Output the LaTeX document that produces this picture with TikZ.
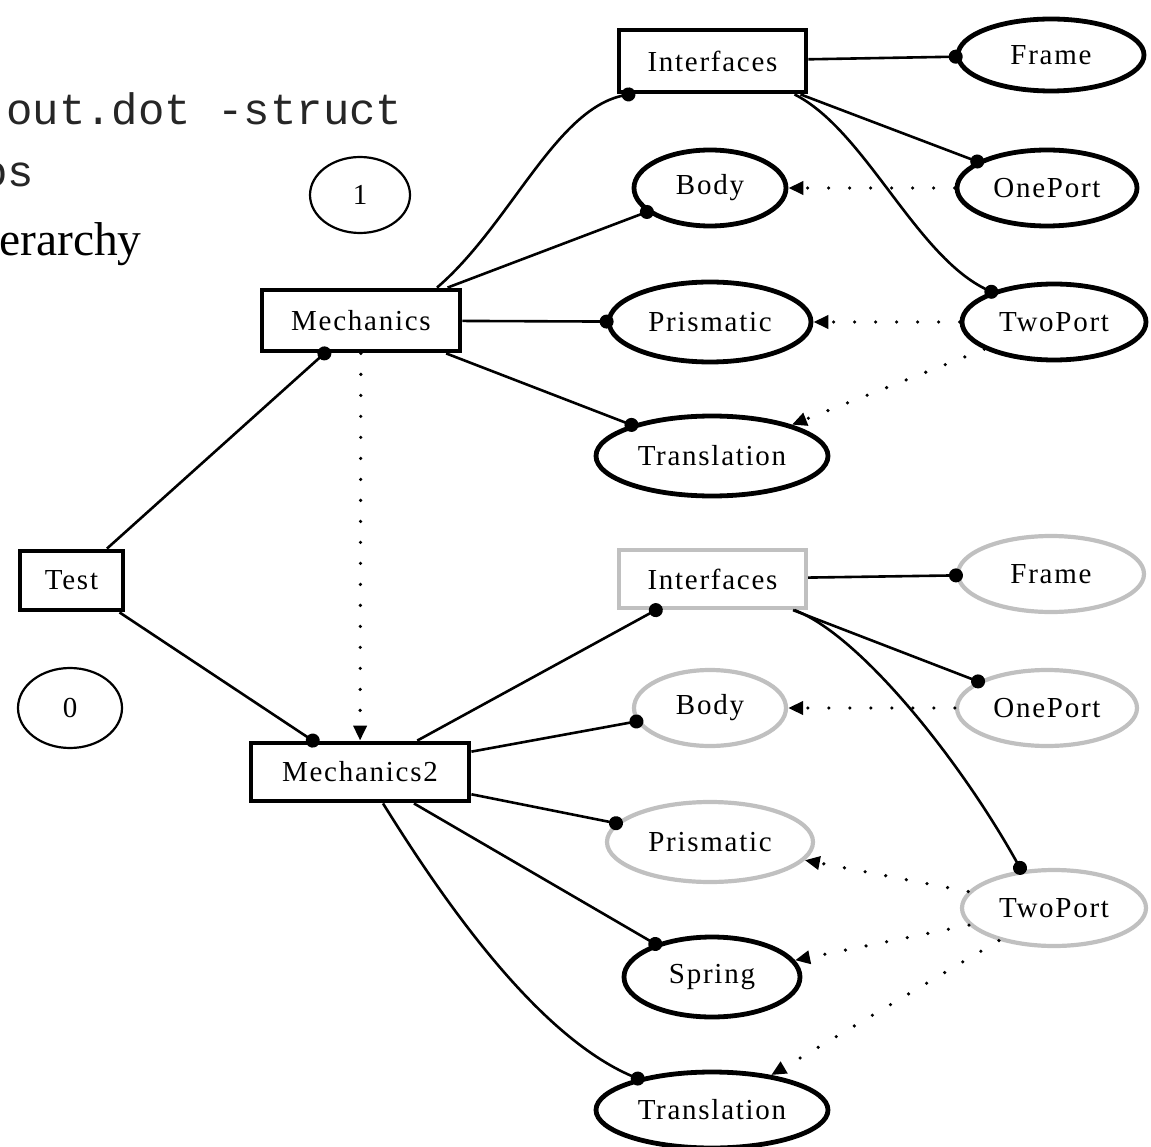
\documentclass[tikz,border=0pt]{standalone}
\usepackage{fontspec}
\setmainfont{Liberation Serif}
\setmonofont{Liberation Mono}
\newfontfamily\lblfont[LetterSpace=6]{Liberation Serif}
\usetikzlibrary{shapes.geometric,arrows.meta}
\definecolor{lgray}{RGB}{192,192,192}
\begin{document}
\begin{tikzpicture}[x=1pt,y=-1pt,
  lbl/.style={font=\lblfont\fontsize{29}{31}\selectfont},
  box/.style={lbl,draw,line width=4.8pt,rectangle,inner sep=0pt},
  gbox/.style={box,draw=lgray,line width=4.2pt},
  ell/.style={lbl,draw,line width=4.8pt,ellipse,inner sep=0pt},
  gell/.style={ell,draw=lgray,line width=4.2pt},
  thinell/.style={lbl,draw,line width=2.2pt,ellipse,inner sep=0pt},
  edge/.style={line width=2.6pt,-{Circle[length=14pt]},shorten >=-7pt},
  dep/.style={line width=3.6pt,line cap=round,dash pattern=on 0pt off 21pt,
     -{Triangle[length=15pt,width=13pt]}},
  bigtxt/.style={anchor=base west,inner sep=0pt}]
\useasboundingbox (0,0) rectangle (1151,1147);

% cut-off text at top left
\node[bigtxt,font=\ttfamily\fontsize{44}{46}\selectfont,text=black!85] (t1) at (6,125) {out.dot -struct};
\node[bigtxt,font=\ttfamily\fontsize{44}{46}\selectfont,text=black!85] (t2) at (-19,187) {os};
\node[bigtxt,font=\rmfamily\fontsize{47.5}{50}\selectfont] (t3) at (-1,256) {erarchy};

% numbered ellipses
\node[thinell,minimum width=100pt,minimum height=76pt] (one) at (360,195) {1};
\node[thinell,minimum width=104pt,minimum height=80pt] (zero) at (70,708) {0};

% boxes
\node[box,minimum width=103pt,minimum height=59pt] (test) at (71.5,580.5) {Test};
\node[box,minimum width=198pt,minimum height=61pt] (mech) at (361,320.5) {Mechanics};
\node[box,minimum width=218pt,minimum height=58pt] (mech2) at (360,772) {Mechanics2};
\node[box,minimum width=187pt,minimum height=62pt] (intf) at (712.5,61) {Interfaces};
\node[gbox,minimum width=187pt,minimum height=58pt] (intf2) at (712.5,579) {Interfaces};

% top group ellipses
\node[ell,minimum width=186pt,minimum height=72pt] (frame) at (1051,55) {Frame};
\node[ell,minimum width=152pt,minimum height=76pt] (body) at (710,188) {Body};
\node[ell,minimum width=180pt,minimum height=76pt] (oneport) at (1047,188) {OnePort};
\node[ell,minimum width=202pt,minimum height=80pt] (prism) at (710,322) {Prismatic};
\node[ell,minimum width=184pt,minimum height=76pt] (twoport) at (1054,322) {TwoPort};
\node[ell,minimum width=232pt,minimum height=80pt] (transl) at (712,456) {Translation};

% bottom group ellipses
\node[gell,minimum width=186pt,minimum height=76pt] (frame2) at (1051,574) {Frame};
\node[gell,minimum width=152pt,minimum height=76pt] (body2) at (710,708) {Body};
\node[gell,minimum width=180pt,minimum height=76pt] (oneport2) at (1047,708) {OnePort};
\node[gell,minimum width=206pt,minimum height=80pt] (prism2) at (710,842) {Prismatic};
\node[gell,minimum width=184pt,minimum height=76pt] (twoport2) at (1054,908) {TwoPort};
\node[ell,minimum width=176pt,minimum height=80pt] (spring) at (712,977) {Spring};
\node[ell,minimum width=232pt,minimum height=76pt] (transl2) at (712,1110) {Translation};

% solid edges
\draw[edge] (test) -- (mech);
\draw[edge] (test) -- (mech2);
\draw[edge] ([xshift=76pt]mech.north) .. controls (510,225) and (555,110) .. ([xshift=-84pt]intf.south);
\draw[edge] (mech) -- (body);
\draw[edge] (mech) -- (prism);
\draw[edge] (mech) -- (transl);
\draw[edge] (intf) -- (frame);
\draw[edge] (intf) -- (oneport);
\draw[edge] ([xshift=82pt]intf.south) .. controls (865,130) and (915,255) .. (twoport);
\draw[edge] (mech2) -- (intf2);
\draw[edge] (mech2) -- (body2);
\draw[edge] (mech2) -- (prism2);
\draw[edge] (mech2) -- (spring);
\draw[edge] ([xshift=23pt]mech2.south) .. controls (440,895) and (535,1035) .. (transl2);
\draw[edge] ([xshift=82pt]intf2.south) .. controls (860,635) and (960,760) .. ([xshift=-34pt]twoport2.north);
\draw[edge] (intf2) -- (frame2);
\draw[edge] (intf2) -- (oneport2);

% dotted dependency edges
\draw[dep] (mech) -- (mech2);
\draw[dep] (oneport) -- (body);
\draw[dep] (twoport) -- (prism);
\draw[dep] (twoport) -- (transl);
\draw[dep] (oneport2) -- (body2);
\draw[dep] (twoport2) -- (prism2);
\draw[dep] (twoport2) -- (spring);
\draw[dep] (twoport2) -- (transl2);
\end{tikzpicture}
\end{document}
